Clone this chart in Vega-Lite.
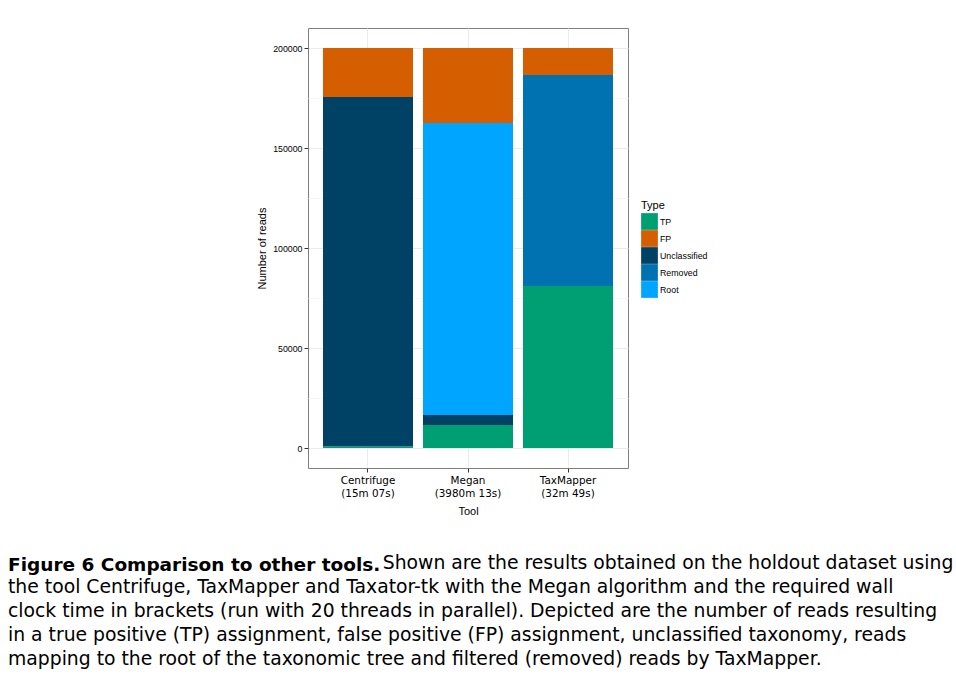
{
  "$schema": "https://vega.github.io/schema/vega-lite/v6.json",
  "width": 320,
  "height": 440,
  "autosize": {"type": "none"},
  "padding": {"left": 308, "top": 28, "right": 328, "bottom": 214},
  "background": "white",
  "config": {
    "view": {"stroke": "#7f7f7f", "strokeWidth": 1},
    "font": "Liberation Sans"
  },
  "data": {
    "values": [
      {"tool": "Centrifuge\n(15m 07s)", "type": "TP", "rank": 1, "reads": 800},
      {"tool": "Centrifuge\n(15m 07s)", "type": "Unclassified", "rank": 2, "reads": 174700},
      {"tool": "Centrifuge\n(15m 07s)", "type": "FP", "rank": 4, "reads": 24500},
      {"tool": "Megan\n(3980m 13s)", "type": "TP", "rank": 1, "reads": 11500},
      {"tool": "Megan\n(3980m 13s)", "type": "Unclassified", "rank": 2, "reads": 5000},
      {"tool": "Megan\n(3980m 13s)", "type": "Root", "rank": 3, "reads": 146000},
      {"tool": "Megan\n(3980m 13s)", "type": "FP", "rank": 4, "reads": 37500},
      {"tool": "TaxMapper\n(32m 49s)", "type": "TP", "rank": 1, "reads": 81000},
      {"tool": "TaxMapper\n(32m 49s)", "type": "Removed", "rank": 3, "reads": 105500},
      {"tool": "TaxMapper\n(32m 49s)", "type": "FP", "rank": 4, "reads": 13500}
    ]
  },
  "mark": {"type": "bar"},
  "encoding": {
    "x": {
      "field": "tool",
      "type": "nominal",
      "sort": null,
      "scale": {"paddingInner": 0.1, "paddingOuter": 0.15},
      "axis": {
        "title": "Tool",
        "titleFont": "Liberation Sans",
        "titleFontSize": 11,
        "titleFontWeight": "normal",
        "titleColor": "#000000",
        "titlePadding": 7,
        "labelExpr": "split(datum.label, '\\n')",
        "labelAngle": 0,
        "labelFont": "DejaVu Sans",
        "labelFontSize": 10.4,
        "labelLineHeight": 13,
        "labelColor": "#000000",
        "labelPadding": 3,
        "bandPosition": 0.5,
        "domain": false,
        "ticks": true,
        "tickColor": "#333333",
        "tickSize": 4,
        "grid": true,
        "gridColor": "#ebebeb",
        "gridWidth": 1
      }
    },
    "y": {
      "field": "reads",
      "type": "quantitative",
      "stack": "zero",
      "scale": {"domain": [-10000, 210000], "nice": false, "zero": false},
      "axis": {
        "title": "Number of reads",
        "titleFont": "Liberation Sans",
        "titleFontSize": 11,
        "titleFontWeight": "normal",
        "titleColor": "#000000",
        "titlePadding": 5,
        "values": [0, 25000, 50000, 75000, 100000, 125000, 150000, 175000, 200000],
        "labelExpr": "datum.value % 50000 === 0 ? format(datum.value, 'd') : ''",
        "labelFont": "Liberation Sans",
        "labelFontSize": 8.8,
        "labelColor": "#000000",
        "labelPadding": 2,
        "domain": false,
        "tickSize": 4,
        "tickColor": "#333333",
        "tickOpacity": {"condition": {"test": "datum.value % 50000 === 0", "value": 1}, "value": 0},
        "grid": true,
        "gridColor": {"condition": {"test": "datum.value % 50000 === 0", "value": "#ebebeb"}, "value": "#f7f7f7"},
        "gridWidth": 1
      }
    },
    "color": {
      "field": "type",
      "type": "nominal",
      "scale": {
        "domain": ["TP", "FP", "Unclassified", "Removed", "Root"],
        "range": ["#009E73", "#D55E00", "#004266", "#0072B2", "#00A5FF"]
      },
      "legend": {
        "title": "Type",
        "orient": "none",
        "legendX": 333,
        "legendY": 172,
        "titleFont": "Liberation Sans",
        "titleFontSize": 11,
        "titleFontWeight": "normal",
        "titleColor": "#000000",
        "titlePadding": 2,
        "labelFont": "Liberation Sans",
        "labelFontSize": 8.8,
        "labelColor": "#000000",
        "labelOffset": 2,
        "symbolType": "square",
        "symbolSize": 280,
        "symbolStrokeWidth": 0,
        "symbolOpacity": 1,
        "rowPadding": 0,
        "padding": 0
      }
    },
    "order": {"field": "rank", "type": "quantitative"}
  },
  "title": {
    "text": "Figure 6  Comparison to other tools.",
    "subtitle": [
      "\u200b\u2003\u2003\u2003\u2003\u2003\u2003\u2003\u2003\u2003\u2003\u2003\u2003\u2003\u2003\u2003\u2003\u2003\u2003\u2003\u00a0\u00a0\u00a0Shown are the results obtained on the holdout dataset using",
      "the tool Centrifuge, TaxMapper and Taxator-tk with the Megan algorithm and the required wall",
      "clock time in brackets (run with 20 threads in parallel). Depicted are the number of reads resulting",
      "in a true positive (TP) assignment, false positive (FP) assignment, unclassified taxonomy, reads",
      "mapping to the root of the taxonomic tree and filtered (removed) reads by TaxMapper."
    ],
    "orient": "bottom",
    "anchor": "start",
    "frame": "group",
    "dx": -300,
    "offset": 40,
    "font": "DejaVu Sans",
    "fontSize": 18.5,
    "fontWeight": "bold",
    "color": "#000000",
    "lineHeight": 24,
    "subtitleFont": "DejaVu Sans",
    "subtitleFontSize": 18.8,
    "subtitleColor": "#000000",
    "subtitleLineHeight": 24,
    "subtitlePadding": -21
  }
}
